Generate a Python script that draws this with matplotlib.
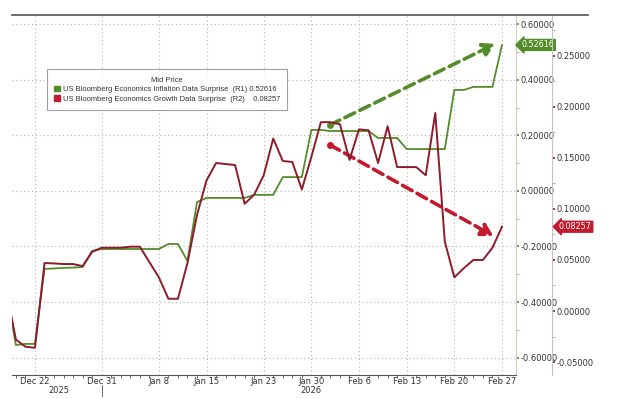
import matplotlib
matplotlib.use("Agg")
import matplotlib.pyplot as plt
from matplotlib.lines import Line2D
from matplotlib.patches import Patch
from matplotlib.ticker import FixedLocator, MultipleLocator, FormatStrFormatter
import numpy as np
import pandas as pd

plt.rcParams['font.family'] = ['DejaVu Sans']

# business days shown on the chart
dates = pd.bdate_range('2025-12-17', '2026-02-27')

# US Bloomberg Economics Inflation Data Surprise (R1)
inflation = [-0.357, -0.555, -0.551, -0.551, -0.281, -0.279, -0.277, -0.276, -0.274, -0.216, -0.209,
             -0.209, -0.209, -0.209, -0.209, -0.209, -0.209, -0.191, -0.191, -0.252, -0.040, -0.025,
             -0.025, -0.025, -0.025, -0.025, -0.014, -0.014, -0.014, 0.050, 0.050, 0.050, 0.220,
             0.220, 0.216, 0.216, 0.216, 0.216, 0.216, 0.191, 0.191, 0.191, 0.151, 0.151,
             0.151, 0.151, 0.151, 0.364, 0.364, 0.375, 0.375, 0.375, 0.52616]
# US Bloomberg Economics Growth Data Surprise (R2)
growth = [0.020, -0.028, -0.035, -0.036, 0.047, 0.0466, 0.046, 0.046, 0.044, 0.058, 0.062,
          0.062, 0.062, 0.063, 0.063, 0.048, 0.033, 0.012, 0.012, 0.047, 0.094, 0.128,
          0.145, 0.144, 0.143, 0.105, 0.114, 0.133, 0.169, 0.147, 0.146, 0.119, 0.151,
          0.185, 0.185, 0.183, 0.148, 0.178, 0.177, 0.145, 0.181, 0.141, 0.141, 0.141,
          0.133, 0.194, 0.068, 0.033, 0.042, 0.050, 0.050, 0.062, 0.08257]

tick_dates = ['2025-12-22', '2025-12-31', '2026-01-08', '2026-01-15', '2026-01-23',
              '2026-01-30', '2026-02-06', '2026-02-13', '2026-02-20', '2026-02-27']
tick_labels = ['Dec 22', 'Dec 31', 'Jan 8', 'Jan 15', 'Jan 23',
               'Jan 30', 'Feb 6', 'Feb 13', 'Feb 20', 'Feb 27']

# hand drawn trend arrows (position in business days, value on R1 scale)
green_arrow = [(33.95, 0.238), (51.3, 0.53)]
red_arrow = [(33.95, 0.166), (51.1, -0.162)]

GREEN = '#548c29'
RED = '#8e1b2b'
RED_TAG = '#c21a2e'

x = np.arange(len(dates))
pos = {d.strftime('%Y-%m-%d'): i for i, d in enumerate(dates)}

fig = plt.figure(figsize=(6.19, 3.99), dpi=100)
W, H = 619, 399
ax = fig.add_axes([12 / W, 1 - 375 / H, 504 / W, 360 / H])
ax2 = ax.twinx()

ax.plot(x, inflation, color=GREEN, lw=1.3, zorder=3)
ax2.plot(x, growth, color=RED, lw=1.4, zorder=3)

ax.set_xlim(0.59, 53.47)
ax.set_ylim(-0.663, 0.634)
ax2.set_ylim(-0.0627, 0.290)

# x axis
ax.set_xticks([pos[d] for d in tick_dates])
ax.set_xticklabels(tick_labels, fontsize=6, color='#333333')
ax.xaxis.set_minor_locator(FixedLocator(x))
ax.tick_params(axis='x', which='major', length=0, pad=1.5)
ax.tick_params(axis='x', which='minor', length=2, color='#555555')
ax.grid(True, which='major', axis='both', color='#b5b5b5', ls=(0, (1, 2.5)), lw=0.8)

# left series axis on the right
ax.yaxis.tick_right()
ax.yaxis.set_major_locator(MultipleLocator(0.2))
ax.yaxis.set_minor_locator(MultipleLocator(0.1))
ax.yaxis.set_major_formatter(FormatStrFormatter('%.5f'))
ax.tick_params(axis='y', which='major', labelsize=6, labelcolor='#333333', color=GREEN, length=2.5, width=1.2, pad=1)
ax.tick_params(axis='y', which='minor', color='#9aa88a', length=2, width=0.6)
ax.tick_params(axis='y', which='both', left=False, labelleft=False)

ax2.yaxis.set_major_locator(MultipleLocator(0.05))
ax2.yaxis.set_minor_locator(MultipleLocator(0.025))
ax2.yaxis.set_major_formatter(FormatStrFormatter('%.5f'))
ax2.spines['right'].set_position(('axes', 540 / 504))
ax2.tick_params(axis='y', which='major', labelsize=6, labelcolor='#333333', color=RED, length=2.5, width=1.2, pad=1)
ax2.tick_params(axis='y', which='minor', color='#a8a8a8', length=2, width=0.6)

for a in (ax, ax2):
    a.spines['top'].set_visible(False)
    a.spines['left'].set_visible(False)
ax.spines['right'].set_color('#c9cfb8')
ax.spines['bottom'].set_color('#555555')
ax2.spines['right'].set_color('#c4c4c4')
ax2.spines['bottom'].set_visible(False)

# dark rule along the top
fig.add_artist(Line2D([12 / W, 588 / W], [1 - 15 / H] * 2, color='#555555', lw=1.2))

# year labels
trans = ax.get_xaxis_transform()
ax.text((0.59 + 10.5) / 2, -0.042, '2025', transform=trans, ha='center', va='center', fontsize=6, color='#333333')
ax.text((10.5 + 53.47) / 2, -0.042, '2026', transform=trans, ha='center', va='center', fontsize=6, color='#333333')
ax.add_artist(Line2D([pos['2025-12-31']] * 2, [-0.028, -0.058], transform=trans, color='#555555', lw=0.6, clip_on=False))

# trend arrows
for (p0, p1), col in ((green_arrow, GREEN), (red_arrow, RED_TAG)):
    ax.annotate('', xy=p1, xytext=p0, zorder=5,
                arrowprops=dict(arrowstyle='-|>,head_length=0.7,head_width=0.4', color=col, lw=2.6,
                                linestyle=(0, (3, 1.6)), shrinkA=0, shrinkB=0))
    ax.plot(*p0, 'o', color=col, ms=4, zorder=5)

# last value tags
ax.annotate('%.5f' % inflation[-1], xy=(1.0, inflation[-1]), xycoords=('axes fraction', 'data'),
            xytext=(4, 0), textcoords='offset points', ha='left', va='center', fontsize=5.8, color='white',
            bbox=dict(boxstyle='larrow,pad=0.12', fc=GREEN, ec=GREEN), annotation_clip=False)
ax2.annotate('%.5f' % growth[-1], xy=(540 / 504, growth[-1]), xycoords=('axes fraction', 'data'),
             xytext=(5, 0), textcoords='offset points', ha='left', va='center', fontsize=5.8, color='white',
             bbox=dict(boxstyle='larrow,pad=0.12', fc=RED_TAG, ec=RED_TAG), annotation_clip=False)

# legend
handles = [Patch(fc=GREEN, ec=GREEN), Patch(fc=RED_TAG, ec=RED_TAG)]
labels = ['US Bloomberg Economics Inflation Data Surprise  (R1) %.5f' % inflation[-1],
          'US Bloomberg Economics Growth Data Surprise  (R2)    %.5f' % growth[-1]]
leg = ax.legend(handles, labels, title='Mid Price', loc='upper left', bbox_to_anchor=(0.069, 0.85),
                prop={'family': 'Liberation Sans', 'size': 5.4}, title_fontproperties={'family': 'Liberation Sans', 'size': 5.4},
                frameon=True, fancybox=False, handlelength=0.8,
                handleheight=0.8, handletextpad=0.3, labelspacing=0.3, borderpad=1.0, borderaxespad=0)
leg.get_frame().set_edgecolor('#888888')
leg.get_frame().set_linewidth(0.8)
leg.get_title().set_color('#333333')
for t in leg.get_texts():
    t.set_color('#333333')
leg.set_zorder(10)

fig.savefig('out.png', dpi=100)
